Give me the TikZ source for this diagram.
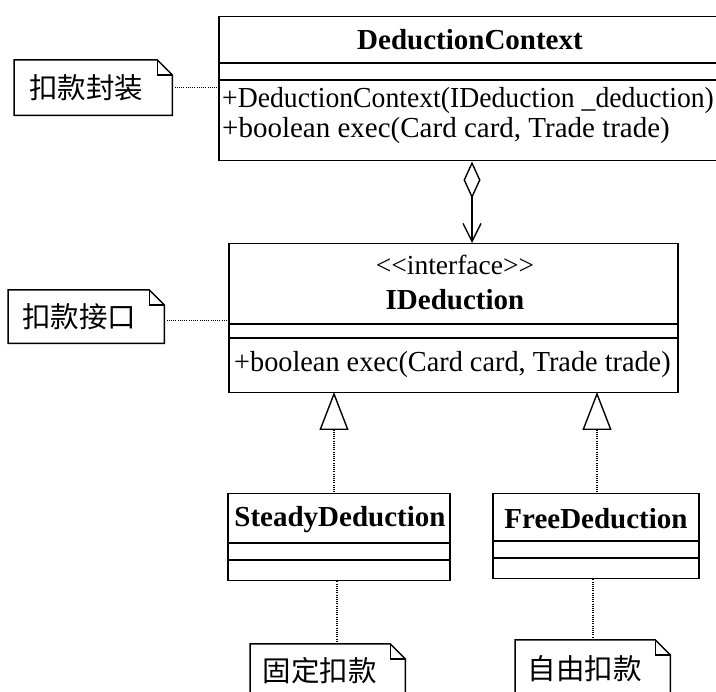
\documentclass[tikz,border=0pt]{standalone}
\usepackage{fontspec}
\setmainfont{Liberation Serif}
\newfontfamily\cjk{Noto Sans CJK SC}
\usetikzlibrary{arrows.meta,calc}
\tikzset{
  classbox/.style={draw, line width=1.5pt, anchor=north west, inner sep=0pt},
  divline/.style={line width=1.5pt},
  notebody/.style={anchor=north west, inner sep=0pt},
  dotline/.style={line width=1.1pt, dash pattern=on 1pt off 1.2pt},
  txt/.style={font=\fontsize{29}{32}\selectfont, inner sep=0pt},
  ttl/.style={font=\fontsize{29}{32}\selectfont\bfseries, inner sep=0pt},
  cjktxt/.style={font=\fontsize{28.5}{32}\selectfont\cjk, inner sep=0pt},
}
\newcommand\drawnote[1]{%
  \draw[line width=1.5pt] (#1.north west) -- ($(#1.north east)+(-15,0)$) -- ($(#1.north east)+(0,15)$) -- (#1.south east) -- (#1.south west) -- cycle;
  \draw[line width=1.2pt] ($(#1.north east)+(-15,0)$) -- ($(#1.north east)+(-15,15)$) -- ($(#1.north east)+(0,15)$);
}
\begin{document}
\begin{tikzpicture}[x=1pt,y=-1pt]
\useasboundingbox (0,0) rectangle (716,692);
\begin{scope}
\clip (0,0) rectangle (716,692);
% DeductionContext
\node[classbox, minimum width=498pt, minimum height=144pt] (dc) at (218,16) {};
\draw[divline] (218,63) -- (716,63);
\draw[divline] (218,80) -- (716,80);
\node[ttl] (dct) at (470,40) {DeductionContext};
\node[txt, anchor=west] (dcm1) at (222,101) {\scalebox{0.955}[1]{+DeductionContext(IDeduction \_deduction)}};
\node[txt, anchor=west] (dcm2) at (222,131) {+boolean exec(Card card, Trade trade)};

% IDeduction
\node[classbox, minimum width=449pt, minimum height=149pt] (id) at (228,243) {};
\draw[divline] (228,324) -- (677,324);
\draw[divline] (228,338) -- (677,338);
\node[txt, font=\fontsize{27.5}{30}\selectfont] (ids) at (455,265) {<{}<interface>{}>};
\node[ttl] (idt) at (455,300) {IDeduction};
\node[txt, anchor=west] (idm) at (234,365) {\scalebox{0.975}[1]{+boolean exec(Card card, Trade trade)}};

% SteadyDeduction
\node[classbox, minimum width=222pt, minimum height=87pt] (sd) at (227,493) {};
\draw[divline] (227,543) -- (449,543);
\draw[divline] (227,560) -- (449,560);
\node[ttl] (sdt) at (340,520) {SteadyDeduction};

% FreeDeduction
\node[classbox, minimum width=206pt, minimum height=85pt] (fd) at (492,493) {};
\draw[divline] (492,541) -- (698,541);
\draw[divline] (492,558) -- (698,558);
\node[ttl] (fdt) at (596,519) {FreeDeduction};

% notes
\node[notebody, minimum width=158pt, minimum height=55pt] (n1) at (14,60) {};
\drawnote{n1}
\node[cjktxt] at ($(n1.center)+(-7,0)$) {扣款封装};
\node[notebody, minimum width=156pt, minimum height=53pt] (n2) at (8,290) {};
\drawnote{n2}
\node[cjktxt] at ($(n2.center)+(-7,0)$) {扣款接口};
\node[notebody, minimum width=155pt, minimum height=60pt] (n3) at (250,644) {};
\drawnote{n3}
\node[cjktxt] at ($(n3.north)+(-8,27)$) {固定扣款};
\node[notebody, minimum width=155pt, minimum height=60pt] (n4) at (515,640) {};
\drawnote{n4}
\node[cjktxt] at ($(n4.north)+(-8,29)$) {自由扣款};

% connectors
\draw[line width=1.4pt, {Diamond[open,length=37pt,width=17pt,line width=1.4pt]}-{Straight Barb[length=18pt,width=18pt,line width=1.4pt]}] (dc.south -| 472,0) -- (id.north -| 472,0);
\draw[dotline, {Triangle[open,length=38pt,width=29pt,line width=1.4pt]}-] (334,392) -- (sd.north -| 334,0);
\draw[dotline, {Triangle[open,length=38pt,width=29pt,line width=1.4pt]}-] (597,392) -- (fd.north -| 597,0);
\draw[dotline] (n1.east) -- (n1.east -| dc.west);
\draw[dotline] ($(n2.east)+(0,4)$) -- ($(n2.east -| id.west)+(0,4)$);
\draw[dotline] (sd.south -| 337,0) -- (n3.north -| 337,0);
\draw[dotline] (fd.south -| 593,0) -- (n4.north -| 593,0);
\end{scope}
\end{tikzpicture}
\end{document}
